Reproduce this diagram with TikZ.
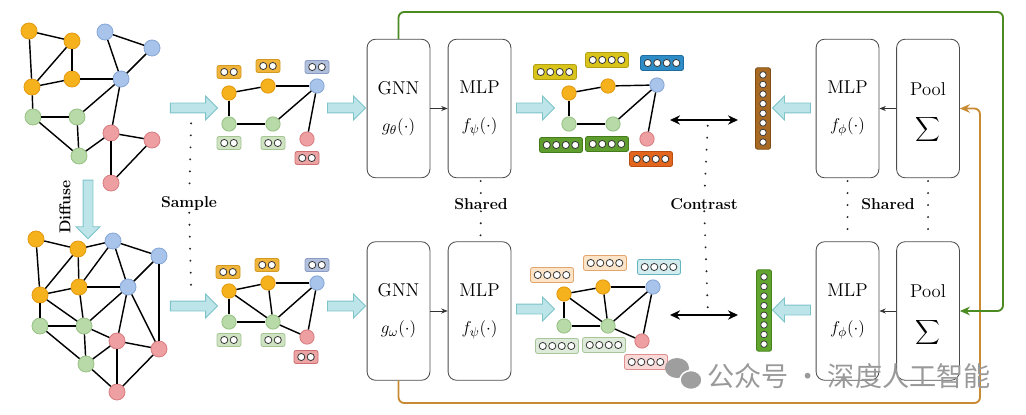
\documentclass[tikz,border=0pt]{standalone}
\usepackage{amsmath}
\usepackage{fontspec}
\newfontfamily\cjk{Noto Sans CJK SC}
\usetikzlibrary{arrows.meta, shapes.arrows}

% node colours
\definecolor{orN}{HTML}{F6B21C}\definecolor{orD}{HTML}{E39A12}
\definecolor{blN}{HTML}{A9C4EA}\definecolor{blD}{HTML}{86A6D6}
\definecolor{grN}{HTML}{B7DAA8}\definecolor{grD}{HTML}{98C285}
\definecolor{rdN}{HTML}{EE9FA1}\definecolor{rdD}{HTML}{D97D80}
% arrows and connectors
\definecolor{cyF}{HTML}{BDE5E9}\definecolor{cyD}{HTML}{7CC3C9}
\definecolor{lnG}{HTML}{4C8A22}\definecolor{lnO}{HTML}{C88A32}
% feature boxes
\definecolor{fOr}{HTML}{F0B43A}\definecolor{fOrD}{HTML}{D39A22}
\definecolor{fBl}{HTML}{AFBFDC}\definecolor{fBlD}{HTML}{8A9CC4}
\definecolor{fGr}{HTML}{CFE3C3}\definecolor{fGrD}{HTML}{A3C592}
\definecolor{fRd}{HTML}{EBA3A3}\definecolor{fRdD}{HTML}{CF6F72}
\definecolor{hYe}{HTML}{D9C41C}\definecolor{hYeD}{HTML}{B3A012}
\definecolor{hBl}{HTML}{2E8CC6}\definecolor{hBlD}{HTML}{1F6C9E}
\definecolor{hGr}{HTML}{5E9D2E}\definecolor{hGrD}{HTML}{447C1C}
\definecolor{hOr}{HTML}{E2661E}\definecolor{hOrD}{HTML}{B94E12}
\definecolor{lOr}{HTML}{FCE4C8}\definecolor{lOrD}{HTML}{E2A56C}
\definecolor{lCy}{HTML}{D2EBEE}\definecolor{lCyD}{HTML}{62B6BE}
\definecolor{lGr}{HTML}{DEEADA}\definecolor{lGrD}{HTML}{A8C69A}
\definecolor{lRd}{HTML}{F9D8D8}\definecolor{lRdD}{HTML}{E08E8E}
\definecolor{vBr}{HTML}{A86A22}\definecolor{vBrD}{HTML}{7E4C12}
\definecolor{vGr}{HTML}{5FA52E}\definecolor{vGrD}{HTML}{45821C}

% feature vector box: name, position, count, fill, border
\newcommand{\fvec}[5]{%
  \node[fbox, fill=#4, draw=#5, minimum width={(#3*9.5+5)*0.7pt},
        minimum height={(11+#3)*0.7pt}] (#1) at (#2) {};
  \foreach \k in {1,...,#3}
    \draw[black!80, fill=white, line width=0.55pt]
      (#1.center) ++({(\k-(#3+1)/2)*9.5},0) circle (2.5pt);
}
% vertical graph embedding: name, position, fill, border
\newcommand{\vvec}[4]{%
  \node[fbox, fill=#3, draw=#4, minimum width=10.5pt, minimum height=57pt] (#1) at (#2) {};
  \foreach \k in {1,...,8}
    \draw[black!80, fill=white, line width=0.5pt]
      (#1.center) ++(0,{(\k-4.5)*9.6}) circle (2.3pt);
}
\newcommand{\boxfont}{\fontsize{13}{15}\selectfont}

\tikzset{
  gnode/.style={circle, inner sep=0pt, minimum size=11.2pt, line width=0.6pt},
  snode/.style={circle, inner sep=0pt, minimum size=10pt, line width=0.6pt},
  onode/.style={fill=orN, draw=orD},
  bnode/.style={fill=blN, draw=blD},
  gnnode/.style={fill=grN, draw=grD},
  rnode/.style={fill=rdN, draw=rdD},
  edge/.style={line width=1pt, black},
  fbox/.style={rounded corners=1.5pt, inner sep=0pt, line width=0.6pt},
  blk/.style={draw=black!70, rounded corners=6pt, minimum width=44pt,
    minimum height=97pt, align=center, font=\boxfont, line width=0.6pt},
  link/.style={-{Stealth[length=4.5pt, width=3.5pt]}, black!80, line width=0.5pt},
  carrow/.style={single arrow, fill=cyF, draw=cyD, line width=0.6pt,
    inner sep=3.15pt, single arrow head extend=4.9pt, minimum height=#1},
  dotline/.style={line width=1.5pt, line cap=round, dash pattern=on 0pt off 8.4pt, black!85},
  tag/.style={font=\fontsize{11}{13}\selectfont\bfseries, inner sep=1pt},
  contrast/.style={{Stealth[length=7pt, width=6.5pt]}-{Stealth[length=7pt, width=6.5pt]},
    line width=1.3pt},
  conn/.style={line width=1.3pt, rounded corners=4pt, -{Stealth[length=7pt, width=6pt]}}
}

\begin{document}
\begin{tikzpicture}[x=0.7pt, y=-0.7pt]
    \useasboundingbox (0,0) rectangle (1026,415);

    % Input graph
    \foreach \n/\p in {to1/{29,31}, to2/{72,41}, to3/{32,87}, to4/{72,79}}
        \node[gnode, onode] (\n) at (\p) {};
    \foreach \n/\p in {tb1/{105,32}, tb2/{152,48}, tb3/{121,79}}
        \node[gnode, bnode] (\n) at (\p) {};
    \foreach \n/\p in {tg1/{33,117}, tg2/{77,117}, tg3/{79,156}}
        \node[gnode, gnnode] (\n) at (\p) {};
    \foreach \n/\p in {tr1/{111,133}, tr2/{152,140}, tr3/{111,183}}
        \node[gnode, rnode] (\n) at (\p) {};
    \foreach \u/\v in {to1/to2, to1/to3, to2/to3, to2/to4, to3/to4, to4/tb3,
                       tb1/tb2, tb1/tb3, tb2/tb3, to3/tg1, tb3/tg2, tg1/tg2,
                       tg1/tg3, tg2/tg3, tb3/tr1, tg3/tr1, tr1/tr2, tr1/tr3, tr2/tr3}
        \draw[edge] (\u) -- (\v);

    % Diffused graph
    \foreach \n/\p in {do1/{36,239}, do2/{78,249}, do3/{40,295}, do4/{79,287}}
        \node[gnode, onode] (\n) at (\p) {};
    \foreach \n/\p in {db1/{113,241}, db2/{159,256}, db3/{128,287}}
        \node[gnode, bnode] (\n) at (\p) {};
    \foreach \n/\p in {dg1/{40,326}, dg2/{84,326}, dg3/{86,364}}
        \node[gnode, gnnode] (\n) at (\p) {};
    \foreach \n/\p in {dr1/{117,341}, dr2/{159,349}, dr3/{117,392}}
        \node[gnode, rnode] (\n) at (\p) {};
    \foreach \u/\v in {do1/do2, do1/do3, do2/do3, do2/do4, do2/db1, db1/db2,
                       db1/do4, db1/db3, db2/db3, db2/dr2, do3/do4, do4/db3,
                       do3/dg1, do3/dg2, do4/dg2, dg1/dg2, dg2/db3, db3/dr1,
                       db3/dr2, dg2/dr1, dr1/dr2, dg1/dg3, dg2/dg3, dg3/dr1,
                       dg3/dr3, dr1/dr3, dr2/dr3}
        \draw[edge] (\u) -- (\v);

    % Diffuse arrow
    \node[carrow=41pt, shape border rotate=270] (diffArr) at (88,207) {};
    \node[tag, rotate=90] (diffLbl) at (65,207) {Diffuse};

    % Sampled subgraphs
    \node[carrow=33pt] (sampA) at (191.5,108) {};
    \node[carrow=33pt] (sampB) at (191.5,306) {};
    \node[tag] (sampleLbl) at (189,204) {Sample};
    \draw[dotline, shorten <=7pt] (sampA) -- (sampleLbl);
    \draw[dotline, shorten >=5pt] (sampleLbl) -- (sampB);

    \foreach \g/\dy in {sa/0, sb/1}
    {
        \node[snode, onode] (\g o1) at (229,{93+199*\dy-\dy}) {};
        \node[snode, onode] (\g o2) at (268,{86+197*\dy}) {};
        \node[snode, bnode] (\g b) at (317,{86+197*\dy}) {};
        \node[snode, gnnode] (\g g1) at (229,{124+198*\dy}) {};
        \node[snode, gnnode] (\g g2) at (273,{124+198*\dy}) {};
        \node[snode, rnode] (\g r) at (307,{139+198*\dy}) {};
    }
    \foreach \u/\v in {sao1/sao2, sao2/sab, sao1/sag1, sag1/sag2, sag2/sab, sab/sar}
        \draw[edge] (\u) -- (\v);
    \foreach \u/\v in {sbo1/sbo2, sbo2/sbb, sbo1/sbg1, sbo1/sbg2, sbo2/sbg2,
                       sbg1/sbg2, sbg2/sbb, sbg2/sbr, sbb/sbr}
        \draw[edge] (\u) -- (\v);

    \fvec{saf1}{229,72}{2}{fOr}{fOrD}
    \fvec{saf2}{268,66}{2}{fOr}{fOrD}
    \fvec{saf3}{317,67}{2}{fBl}{fBlD}
    \fvec{saf4}{229,143}{2}{fGr}{fGrD}
    \fvec{saf5}{273,143}{2}{fGr}{fGrD}
    \fvec{saf6}{307,158}{2}{fRd}{fRdD}
    \fvec{sbf1}{228,272}{2}{fOr}{fOrD}
    \fvec{sbf2}{267,265}{2}{fOr}{fOrD}
    \fvec{sbf3}{317,265}{2}{fBl}{fBlD}
    \fvec{sbf4}{229,340}{2}{fGr}{fGrD}
    \fvec{sbf5}{273,340}{2}{fGr}{fGrD}
    \fvec{sbf6}{306,357}{2}{fRd}{fRdD}

    % Encoders
    \node[carrow=26.6pt] (inA) at (344,108) {};
    \node[carrow=26.6pt] (inB) at (344,306) {};
    \node[blk] (gnnA) at (398.5,108.5) {GNN\\[11pt]$g_\theta(\cdot)$};
    \node[blk] (mlpA) at (479.5,108.5) {MLP\\[11pt]$f_\psi(\cdot)$};
    \node[blk] (gnnB) at (398.5,311) {GNN\\[11pt]$g_\omega(\cdot)$};
    \node[blk] (mlpB) at (479.5,311) {MLP\\[11pt]$f_\psi(\cdot)$};
    \draw[link] (gnnA) -- (mlpA);
    \draw[link] (gnnB) -- (mlpB);
    \node[tag] (sharedA) at (481,204) {Shared};
    \draw[dotline, shorten <=2pt] (mlpA) -- (sharedA);
    \draw[dotline, shorten >=2pt] (sharedA) -- (mlpB);

    % Node embeddings
    \node[carrow=26.6pt] (outA) at (533,108) {};
    \node[carrow=26.6pt] (outB) at (533,309) {};
    \foreach \g/\dy in {ra/0, rb/1}
    {
        \node[snode, onode] (\g o1) at ({569-5*\dy},{93+201*\dy}) {};
        \node[snode, onode] (\g o2) at ({608-5*\dy},{86+201*\dy}) {};
        \node[snode, bnode] (\g b) at ({657-4*\dy},{85+202*\dy}) {};
        \node[snode, gnnode] (\g g1) at ({569-5*\dy},{124+202*\dy}) {};
        \node[snode, gnnode] (\g g2) at ({613-5*\dy},{124+202*\dy}) {};
        \node[snode, rnode] (\g r) at ({647-5*\dy},{139+202*\dy}) {};
    }
    \foreach \u/\v in {rao1/rao2, rao2/rab, rao1/rag1, rag1/rag2, rag2/rab, rab/rar}
        \draw[edge] (\u) -- (\v);
    \foreach \u/\v in {rbo1/rbo2, rbo2/rbb, rbo1/rbg1, rbo1/rbg2, rbo2/rbg2,
                       rbg1/rbg2, rbg2/rbb, rbg2/rbr, rbb/rbr}
        \draw[edge] (\u) -- (\v);

    \fvec{raf1}{555,72}{4}{hYe}{hYeD}
    \fvec{raf2}{607,60}{4}{hYe}{hYeD}
    \fvec{raf3}{662,63}{4}{hBl}{hBlD}
    \fvec{raf4}{561,145}{4}{hGr}{hGrD}
    \fvec{raf5}{607,144}{4}{hGr}{hGrD}
    \fvec{raf6}{651,159}{4}{hOr}{hOrD}
    \fvec{rbf1}{552,275}{4}{lOr}{lOrD}
    \fvec{rbf2}{605,263}{4}{lOr}{lOrD}
    \fvec{rbf3}{659,267}{4}{lCy}{lCyD}
    \fvec{rbf4}{557,346}{4}{lGr}{lGrD}
    \fvec{rbf5}{604,345}{4}{lGr}{lGrD}
    \fvec{rbf6}{646,362}{4}{lRd}{lRdD}

    % Contrast
    \coordinate (ctA1) at (670,120);
    \coordinate (ctA2) at (738,120);
    \coordinate (ctAm) at (708,120);
    \coordinate (ctB1) at (670,315);
    \coordinate (ctB2) at (738,315);
    \coordinate (ctBm) at (708,315);
    \draw[contrast] (ctA1) -- (ctA2);
    \draw[contrast] (ctB1) -- (ctB2);
    \node[tag] (contrastLbl) at (704,204) {Contrast};
    \draw[dotline, shorten <=4pt] (ctAm) -- (contrastLbl);
    \draw[dotline, shorten >=3pt] (contrastLbl) -- (ctBm);

    % Graph embeddings
    \vvec{vecA}{763,108.5}{vBr}{vBrD}
    \vvec{vecB}{764,310.5}{vGr}{vGrD}
    \node[carrow=26.6pt, shape border rotate=180] (backA) at (794,108) {};
    \node[carrow=26.6pt, shape border rotate=180] (backB) at (794,310) {};

    % Readout
    \node[blk] (mlpRA) at (847.5,108.5) {MLP\\[11pt]$f_\phi(\cdot)$};
    \node[blk] (poolA) at (928,108.5) {\rule{0pt}{15pt}Pool\\[12pt]$\displaystyle\sum$};
    \node[blk] (mlpRB) at (847.5,311) {MLP\\[11pt]$f_\phi(\cdot)$};
    \node[blk] (poolB) at (928,311) {\rule{0pt}{15pt}Pool\\[12pt]$\displaystyle\sum$};
    \draw[link] (poolA) -- (mlpRA);
    \draw[link] (poolB) -- (mlpRB);
    \node[tag] (sharedB) at (888,204) {Shared};
    \draw[dotline, shorten <=2pt, shorten >=2pt] (mlpRA) -- (mlpRB);
    \draw[dotline, shorten <=2pt, shorten >=2pt] (poolA) -- (poolB);

    % Cross connections
    \coordinate (gTop) at (1003,12);
    \coordinate (oBot) at (980,403);
    \draw[conn, lnO] (gnnB.south) |- (oBot) |- (poolA.east);
    \draw[conn, lnG] (gnnA.north) |- (gTop) |- (poolB.east);

    % Watermark
    \fill[black!38] (677,368) ellipse (12 and 10);
    \fill[black!38, draw=white, line width=1pt] (691,380) ellipse (11 and 9.5);
    \node[text=black!40, font=\cjk\fontsize{19}{20}\selectfont, inner sep=0pt]
        (wmark) at (849,376) {公众号 · 深度人工智能};
\end{tikzpicture}
\end{document}
